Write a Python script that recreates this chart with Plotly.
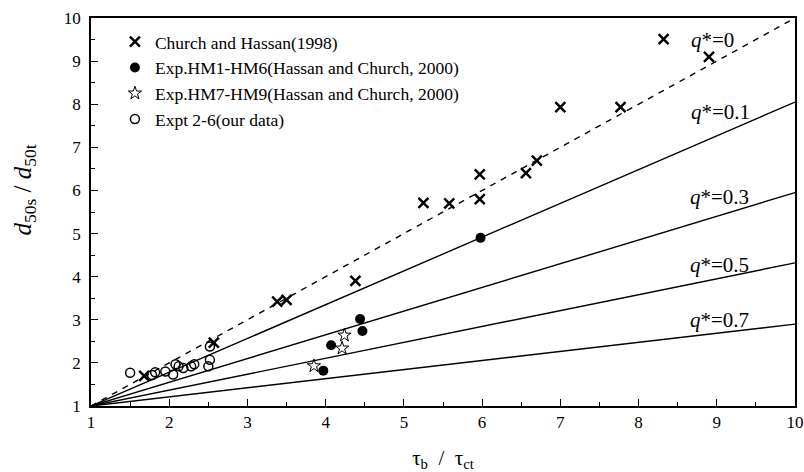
import plotly.graph_objects as go

# Church and Hassan (1998)
ch_x = [1.68, 2.57, 3.38, 3.50, 4.38, 5.25, 5.58, 5.97, 5.97, 6.56, 6.70, 7.00, 7.77, 8.32, 8.90]
ch_y = [1.70, 2.47, 3.42, 3.46, 3.90, 5.71, 5.70, 6.37, 5.80, 6.40, 6.69, 7.93, 7.93, 9.51, 9.10]
# Exp. HM1-HM6
hm16_x = [3.97, 4.07, 4.44, 4.47, 5.98]
hm16_y = [1.82, 2.41, 3.02, 2.74, 4.90]
# Exp. HM7-HM9
hm79_x = [3.85, 4.21, 4.24]
hm79_y = [1.93, 2.34, 2.64]
# Expt 2-6 (our data)
our_x = [1.50, 1.78, 1.82, 1.95, 2.05, 2.08, 2.12, 2.18, 2.28, 2.32, 2.50, 2.52, 2.52]
our_y = [1.77, 1.72, 1.78, 1.80, 1.73, 1.97, 1.92, 1.88, 1.92, 1.97, 1.92, 2.07, 2.38]

# reference lines (from (1,1) to x=10)
q_labels = ["0", "0.1", "0.3", "0.5", "0.7"]
line_x = [1, 10]
line_y_end = [10.0, 8.05, 5.95, 4.32, 2.90]
label_x = [8.95, 9.05, 9.03, 9.03, 9.03]
label_y = [9.49, 7.83, 5.85, 4.27, 3.00]

FONT = "'Liberation Serif', 'Times New Roman', Times, serif"

fig = go.Figure()

for i, q in enumerate(q_labels):
    fig.add_trace(go.Scatter(
        x=line_x, y=[1, line_y_end[i]], mode="lines",
        line=dict(color="black", width=1.4, dash="6px,6px" if q == "0" else "solid"),
        showlegend=False, hoverinfo="skip"))

fig.add_trace(go.Scatter(
    x=ch_x, y=ch_y, mode="markers", name="Church and Hassan(1998)",
    marker=dict(symbol="x-thin-open", size=10, color="black", line=dict(width=2.5, color="black"))))
fig.add_trace(go.Scatter(
    x=hm16_x, y=hm16_y, mode="markers", name="Exp.HM1-HM6(Hassan and Church, 2000)",
    marker=dict(symbol="circle", size=10, color="black")))
fig.add_trace(go.Scatter(
    x=hm79_x, y=hm79_y, mode="markers", name="Exp.HM7-HM9(Hassan and Church, 2000)",
    marker=dict(symbol="star-open", size=10, color="black", line=dict(width=1, color="black"))))
fig.add_trace(go.Scatter(
    x=our_x, y=our_y, mode="markers", name="Expt 2-6(our data)",
    marker=dict(symbol="circle-open", size=9, color="black", line=dict(width=1.5, color="black"))))

for i, q in enumerate(q_labels):
    fig.add_annotation(x=label_x[i], y=label_y[i], text="<i>q</i>*=" + q, showarrow=False,
                       font=dict(family=FONT, size=21, color="black"))

# y-axis title as annotation (placed slightly above axis middle as in the reference)
fig.add_annotation(xref="paper", yref="y", x=-0.095, y=6.0, xanchor="center", yanchor="middle",
                   text="<i>d</i><sub>50s</sub> / <i>d</i><sub>50t</sub>", textangle=-90,
                   showarrow=False, font=dict(family=FONT, size=25, color="black"))

axis_common = dict(
    showgrid=False, zeroline=False, showline=True, linecolor="black", linewidth=1.5,
    mirror=True, ticks="inside", ticklen=7, tickwidth=1.2, tickcolor="black",
    tickfont=dict(family=FONT, size=17, color="black"),
    minor=dict(ticks="inside", ticklen=4, tickwidth=1.2, tickcolor="black", dtick=0.5),
    dtick=1, tick0=1,
)

fig.update_xaxes(range=[1, 10], title=dict(text="τ<sub>b</sub>  /  τ<sub>ct</sub>",
                 font=dict(family=FONT, size=21, color="black"), standoff=22), **axis_common)
fig.update_yaxes(range=[1, 10], ticklabelstandoff=5, **axis_common)

fig.update_layout(
    width=804, height=472,
    margin=dict(l=91, r=9, t=18, b=66, autoexpand=False),
    plot_bgcolor="white", paper_bgcolor="white",
    font=dict(family=FONT, color="black"),
    legend=dict(x=0.034, y=0.985, xanchor="left", yanchor="top",
                bgcolor="rgba(0,0,0,0)", borderwidth=0,
                font=dict(family=FONT, size=17.5, color="black"),
                tracegroupgap=0, itemsizing="trace"),
)

fig.write_html("out.html")
